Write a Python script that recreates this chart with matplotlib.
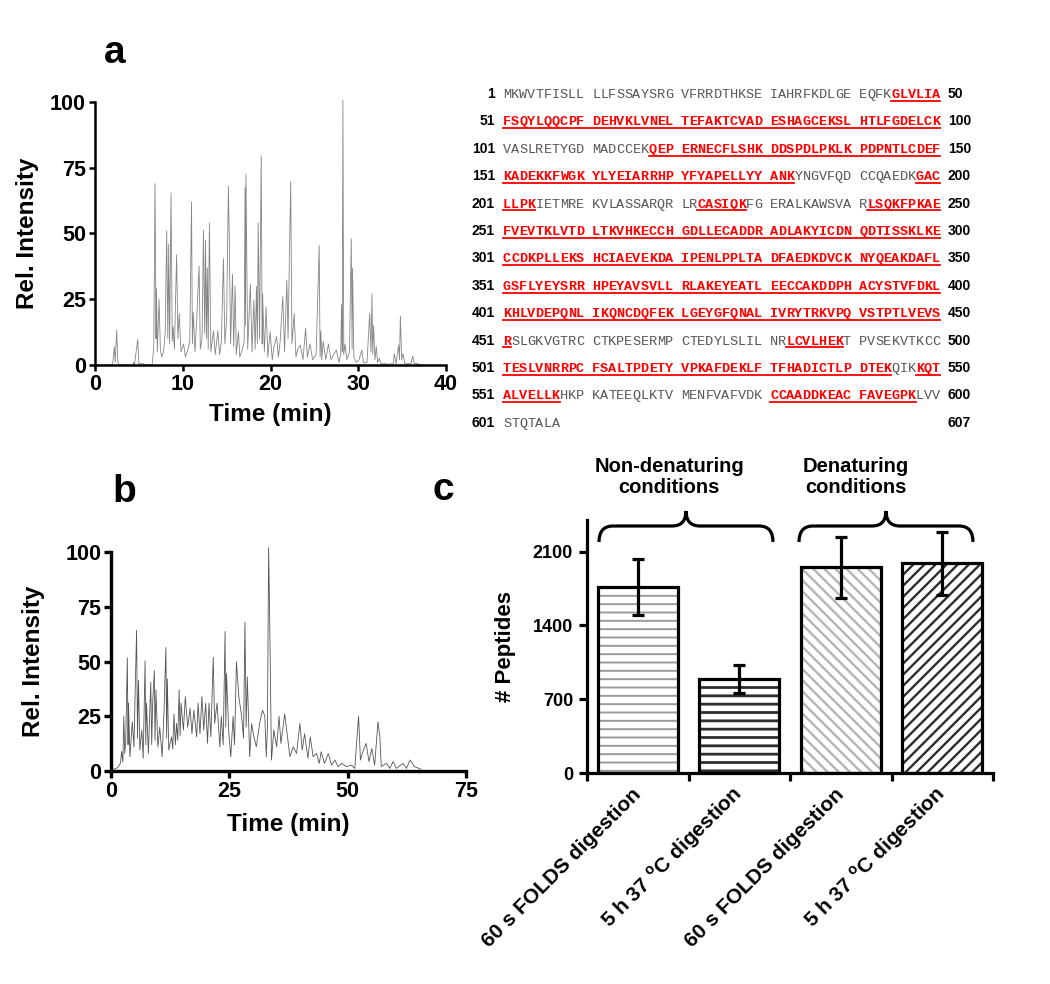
import matplotlib
matplotlib.use('Agg')
import matplotlib.pyplot as plt
from matplotlib.path import Path
from matplotlib.patches import PathPatch
from matplotlib.lines import Line2D
import numpy as np

plt.rcParams['font.family'] = ['Liberation Sans', 'DejaVu Sans']
plt.rcParams['font.weight'] = 'bold'
plt.rcParams['axes.labelweight'] = 'bold'
plt.rcParams['mathtext.fontset'] = 'custom'
plt.rcParams['mathtext.bf'] = 'Liberation Sans:bold'
plt.rcParams['mathtext.rm'] = 'Liberation Sans:bold'
plt.rcParams['hatch.linewidth'] = 1.5

# ---------------- data ----------------
# Panel a chromatogram (time in min, relative intensity)
a_time = [0, 2.0, 2.2, 2.3, 2.47, 2.6, 2.8, 4.3, 4.4, 4.5, 4.87, 5.0, 5.5, 5.7, 6.5, 6.6, 6.7, 6.84, 6.95,
          7.0, 7.1, 7.3, 7.45, 7.6, 7.8, 8.0, 8.17, 8.3, 8.4, 8.5, 8.67, 8.8, 8.9, 9.05, 9.3, 9.45, 9.6,
          9.8, 10.1, 10.3, 10.6, 10.8, 11.0, 11.1, 11.2, 11.4, 11.6, 11.86, 12.0, 12.2, 12.36, 12.5, 12.6,
          12.7, 12.8, 12.9, 13.04, 13.2, 13.5, 13.7, 14.0, 14.2, 14.4, 14.64, 14.8, 15.0, 15.2, 15.3,
          15.45, 15.67, 15.8, 15.97, 16.1, 16.35, 16.5, 16.8, 17.0, 17.1, 17.15, 17.2, 17.4, 17.7, 17.9,
          18.1, 18.25, 18.4, 18.5, 18.6, 18.75, 18.94, 19.05, 19.1, 19.3, 19.5, 19.7, 19.96, 20.2, 20.4,
          20.7, 20.9, 21.1, 21.4, 21.6, 21.86, 22.0, 22.3, 22.45, 22.7, 22.9, 23.1, 23.4, 23.7, 24.0,
          24.2, 24.5, 24.8, 25.2, 25.55, 25.65, 25.74, 25.85, 26.0, 26.3, 26.6, 26.9, 27.2, 27.5, 27.8,
          28.0, 28.1, 28.18, 28.25, 28.35, 28.5, 28.7, 29.0, 29.2, 29.3, 29.35, 29.5, 29.8, 30.1, 30.4,
          30.6, 31.0, 31.3, 31.45, 31.56, 31.65, 31.75, 31.9, 32.05, 32.2, 32.4, 32.6, 33.0, 33.5, 34.0,
          34.1, 34.3, 34.6, 34.7, 34.8, 34.95, 35.1, 35.3, 36.0, 36.2, 36.4, 36.7, 37.0, 37.3]
a_int = [0, 0, 7, 1, 13.3, 1, 0, 0, 1, 0, 9.8, 0.5, 0.5, 0, 0, 3, 8, 69, 10,
         29, 5, 25, 6, 3, 5, 12, 51, 10, 46, 8, 65.5, 9, 14.5, 6, 42, 10, 19.6,
         5, 8, 3, 6, 9, 62, 8, 20, 5, 18, 37.6, 6, 10, 51.3, 12, 47.5,
         10, 37, 6, 54, 5, 13, 4, 13, 4, 9, 40.5, 8, 17, 68, 49,
         8, 34.5, 7, 30, 4, 12.7, 3, 6, 9, 67.5, 15, 72.6, 6, 30.8, 5,
         24.7, 6, 29.8, 8, 54, 10, 79.5, 8, 27, 5, 22, 3, 12.7, 2, 7,
         10.8, 3, 9, 26, 5, 32.3, 10, 69.7, 8, 19.6, 3, 6, 7.6, 2, 14,
         3, 8, 2, 4, 45.4, 3, 13, 2, 9, 2, 8, 2, 4, 5.7, 1,
         4, 23, 5, 100.8, 4, 8, 2, 5, 48, 6, 36.8, 3, 1, 2, 5.7,
         1, 1, 19.6, 5, 27, 4, 15, 2, 7, 1, 2.5, 0.5, 0.5, 0.3, 0.5,
         4.4, 0.5, 7.6, 2, 18.6, 2, 4.4, 0.5, 0.5, 3.4, 0.5, 0.6, 0, 0]

# Panel b chromatogram
b_time = [0, 0.8, 1.4, 2.0, 2.25, 2.5, 2.7, 2.9, 3.1, 3.45, 3.6, 3.7, 4.0, 4.5, 4.85, 5.4, 5.6, 5.8, 6.1,
          6.5, 6.8, 7.2, 7.35, 7.5, 7.9, 8.4, 8.6, 8.8, 9.15, 9.3, 9.5, 9.9, 10.3, 10.8, 11.2, 11.6,
          11.75, 11.9, 12.2, 12.8, 13.05, 13.3, 13.6, 13.85, 14.1, 14.4, 14.6, 14.8, 15.3, 15.7, 16.2,
          16.7, 17.1, 17.5, 18.1, 18.4, 18.8, 19.2, 19.6, 20.0, 20.4, 20.7, 21.1, 21.6, 21.9, 22.4,
          23.0, 23.3, 23.7, 24.1, 24.25, 24.4, 24.9, 25.3, 25.8, 26.1, 26.5, 27.0, 27.6, 28.0, 28.3,
          28.55, 28.8, 29.3, 29.7, 30.2, 30.7, 31.4, 32.0, 32.5, 32.8, 33.05, 33.3, 33.5, 33.9, 34.4,
          35.0, 35.5, 35.9, 36.7, 37.2, 37.8, 38.5, 39.2, 39.9, 40.4, 40.9, 41.6, 42.1, 42.7, 43.4,
          44.0, 44.4, 45.1, 45.9, 46.6, 47.3, 48.0, 48.7, 49.7, 50.8, 51.5, 52.3, 52.7, 53.2, 53.9,
          54.5, 55.1, 55.7, 56.4, 56.8, 57.1, 58.2, 58.9, 59.6, 60.3, 61.7, 62.4, 63.2, 64.1, 65.5]
b_int = [0.5, 1, 1.5, 3.5, 9, 4, 25, 8, 12.6, 51.7, 12, 31, 6.5, 22.5, 11, 64.3, 15, 41.5, 9.6,
         18.7, 5.8, 50.3, 12, 31, 8, 40.6, 12, 31, 46, 14, 37, 11, 20, 6.5, 27, 56.4,
         15, 42, 9.6, 15.6, 10, 26, 12, 21.7, 14, 37, 16, 31, 18.7, 34, 20,
         28.6, 17, 27.8, 15.6, 31, 17, 34, 18.7, 31, 12.6, 31, 15.6, 52, 21.7, 31,
         11, 25, 12, 63.7, 20, 44.5, 17, 6.5, 25, 12, 50, 34, 25, 15, 68,
         20, 43, 6.5, 21.7, 15.6, 11, 21.7, 27.8, 25, 6.5, 20, 102, 73, 5, 18.7,
         11, 25, 12.6, 26, 17, 6.5, 11, 8, 21.7, 9.6, 17, 5.8, 15.6, 6.5, 8,
         3.5, 8.8, 3.5, 8, 2.7, 5, 2, 3.5, 2, 2.7, 1.2, 25, 5, 8.8, 12.6,
         4.3, 10.3, 2.7, 22.5, 15.6, 2, 3.5, 1.2, 4.3, 1.2, 3.5, 1.2, 5, 2, 0.8]

# Panel c bar chart
conditions = ['Non-denaturing\nconditions', 'Denaturing\nconditions']
categories = ['60 s FOLDS digestion', r'5 h 37 $^{\mathbf{o}}$C digestion',
              '60 s FOLDS digestion', r'5 h 37 $^{\mathbf{o}}$C digestion']
peptides = [1767, 893, 1950, 1990]
peptides_err = [267, 133, 290, 299]
c_yticks = [0, 700, 1400, 2100]

# Protein sequence (BSA), 50 residues per line, covered peptides in red
seq_lines = [
    "MKWVTFISLL LLFSSAYSRG VFRRDTHKSE IAHRFKDLGE EQFKGLVLIA",
    "FSQYLQQCPF DEHVKLVNEL TEFAKTCVAD ESHAGCEKSL HTLFGDELCK",
    "VASLRETYGD MADCCEKQEP ERNECFLSHK DDSPDLPKLK PDPNTLCDEF",
    "KADEKKFWGK YLYEIARRHP YFYAPELLYY ANKYNGVFQD CCQAEDKGAC",
    "LLPKIETMRE KVLASSARQR LRCASIQKFG ERALKAWSVA RLSQKFPKAE",
    "FVEVTKLVTD LTKVHKECCH GDLLECADDR ADLAKYICDN QDTISSKLKE",
    "CCDKPLLEKS HCIAEVEKDA IPENLPPLTA DFAEDKDVCK NYQEAKDAFL",
    "GSFLYEYSRR HPEYAVSVLL RLAKEYEATL EECCAKDDPH ACYSTVFDKL",
    "KHLVDEPQNL IKQNCDQFEK LGEYGFQNAL IVRYTRKVPQ VSTPTLVEVS",
    "RSLGKVGTRC CTKPESERMP CTEDYLSLIL NRLCVLHEKT PVSEKVTKCC",
    "TESLVNRRPC FSALTPDETY VPKAFDEKLF TFHADICTLP DTEKQIKKQT",
    "ALVELLKHKP KATEEQLKTV MENFVAFVDK CCAADDKEAC FAVEGPKLVV",
    "STQTALA",
]
covered = [(45, 100), (118, 183), (198, 204), (223, 228), (242, 451),
           (483, 489), (501, 544), (548, 557), (581, 597)]

# ---------------- figure ----------------
W, H = 1050, 984
fig = plt.figure(figsize=(W / 100, H / 100), dpi=100)


def ax_px(l, t, r, b):
    return fig.add_axes([l / W, 1 - b / H, (r - l) / W, (b - t) / H])


def ftext(x, y, s, **kw):
    return fig.text(x / W, 1 - y / H, s, **kw)


def style(ax, lw, tl, fs, pad):
    for s in ['top', 'right']:
        ax.spines[s].set_visible(False)
    for s in ['left', 'bottom']:
        ax.spines[s].set_linewidth(lw)
    ax.tick_params(width=lw, length=tl, labelsize=fs, direction='out', pad=pad)


# Panel a
ax_a = ax_px(95, 102, 446, 365)
ax_a.plot(a_time, a_int, color='#858585', lw=0.6, clip_on=False)
ax_a.set_xlim(0, 40)
ax_a.set_ylim(0, 100)
ax_a.set_xticks([0, 10, 20, 30, 40])
ax_a.set_yticks([0, 25, 50, 75, 100])
style(ax_a, 1.8, 4, 15.5, 2.5)
ax_a.set_ylabel('Rel. Intensity', fontsize=17.5)
ax_a.yaxis.set_label_coords(-0.16, 0.5)
ax_a.set_xlabel('Time (min)', fontsize=17.5)
ax_a.xaxis.set_label_coords(0.5, -0.145)

# Panel b
ax_b = ax_px(111, 552, 466, 771)
ax_b.plot(b_time, b_int, color='#555555', lw=0.6, clip_on=False)
ax_b.set_xlim(0, 75)
ax_b.set_ylim(0, 100)
ax_b.set_xticks([0, 25, 50, 75])
ax_b.set_yticks([0, 25, 50, 75, 100])
style(ax_b, 2.4, 5, 15.5, 2)
ax_b.set_ylabel('Rel. Intensity', fontsize=17.5)
ax_b.yaxis.set_label_coords(-0.185, 0.5)
ax_b.set_xlabel('Time (min)', fontsize=17.5)
ax_b.xaxis.set_label_coords(0.5, -0.19)

# Panel c
ax_c = ax_px(587, 520, 993, 773)
xpos = np.arange(len(peptides))
hatches = ['--', '--', '\\\\\\', '///']
hcolors = ['#9a9a9a', '#2e2e2e', '#b5b5b5', '#2e2e2e']
hlw = [1.4, 2.0, 1.7, 1.7]
for i in range(len(peptides)):
    bars = ax_c.bar(xpos[i], peptides[i], 0.79, color='white', edgecolor=hcolors[i],
                    hatch=hatches[i], lw=0, zorder=2)
    for p in bars:
        try:
            p.set_hatch_linewidth(hlw[i])
        except AttributeError:
            pass
ax_c.bar(xpos, peptides, 0.79, fill=False, edgecolor='black', lw=2.3, zorder=3)
ax_c.errorbar(xpos, peptides, yerr=peptides_err, fmt='none', ecolor='black',
              elinewidth=2.3, capsize=4.5, capthick=2.3, zorder=4)
ax_c.set_xlim(-0.5, 3.5)
ax_c.set_ylim(0, 2400)
ax_c.set_yticks(c_yticks)
ax_c.set_xticks(np.arange(-0.5, 4.0, 1.0))
ax_c.set_xticklabels([])
ax_c.set_xticks(xpos, labels=categories, minor=True)
style(ax_c, 2.3, 6, 13, 4)
ax_c.tick_params(axis='x', which='minor', length=0, pad=13, labelsize=15)
for lab in ax_c.get_xticklabels(minor=True):
    lab.set_rotation(45)
    lab.set_ha('right')
    lab.set_va('center')
    lab.set_rotation_mode('anchor')
ax_c.set_ylabel('# Peptides', fontsize=16)
ax_c.yaxis.set_label_coords(-0.175, 0.5)


# braces above groups (pixel coordinates)
def brace(x0, x1, xc, y_end, y_flat, y_peak, r=14):
    pts = [(x0, y_end), (x0, y_flat), (x0 + r, y_flat), (xc - r, y_flat),
           (xc, y_flat), (xc, y_peak), (xc, y_flat), (xc + r, y_flat),
           (x1 - r, y_flat), (x1, y_flat), (x1, y_end)]
    codes = [Path.MOVETO, Path.CURVE3, Path.CURVE3, Path.LINETO,
             Path.CURVE3, Path.CURVE3, Path.CURVE3, Path.CURVE3,
             Path.LINETO, Path.CURVE3, Path.CURVE3]
    verts = [(x / W, 1 - y / H) for x, y in pts]
    fig.add_artist(PathPatch(Path(verts, codes), fill=False, lw=2.3,
                             edgecolor='black', transform=fig.transFigure))


brace(599, 773, 686, 542, 526, 511)
brace(799, 973, 886, 542, 526, 511)
ftext(669, 477, conditions[0], ha='center', va='center', fontsize=14.5, linespacing=1.1)
ftext(856, 477, conditions[1], ha='center', va='center', fontsize=14.5, linespacing=1.1)

# panel letters
ftext(115, 63, 'a', ha='center', va='baseline', fontsize=28)
ftext(124, 502, 'b', ha='center', va='baseline', fontsize=28)
ftext(443, 500, 'c', ha='center', va='baseline', fontsize=28)

# ---------------- sequence coverage ----------------
seq = ''.join(l.replace(' ', '') for l in seq_lines)
is_red = np.zeros(len(seq) + 1, dtype=bool)
for s, e in covered:
    is_red[s:e + 1] = True

cw = 437 / 54.0
x_seq0 = 503
mono_pt = cw / 0.6 * 0.72
red = '#ff0000'
gray = '#555555'
for li in range(len(seq_lines)):
    yb = 98 + li * 27.4
    start = 50 * li + 1
    end = min(start + 49, len(seq))
    ftext(495, yb, str(start), ha='right', va='baseline', fontsize=10,
          family='Liberation Sans', weight='bold', color='black')
    ftext(948, yb, str(end), ha='left', va='baseline', fontsize=10,
          family='Liberation Sans', weight='bold', color='black')
    # draw each residue at its fixed monospace column
    for r in range(start, end + 1):
        j = r - start
        col = j + j // 10
        flag = bool(is_red[r])
        ftext(x_seq0 + (col + 0.5) * cw, yb, seq[r - 1], ha='center', va='baseline',
              family='Liberation Mono', fontsize=mono_pt,
              weight='bold' if flag else 'normal', color=red if flag else gray)
    # underline runs of covered residues
    runs = []
    for r in range(start, end + 1):
        j = r - start
        col = j + j // 10
        if is_red[r]:
            if runs and runs[-1][1] == r - 1:
                runs[-1][1] = r
                runs[-1][3] = col
            else:
                runs.append([r, r, col, col])
    for _, _, c0, c1 in runs:
        xs = x_seq0 + c0 * cw
        xe = x_seq0 + (c1 + 1) * cw
        yu = yb + 2.8
        fig.add_artist(Line2D([xs / W, xe / W], [1 - yu / H, 1 - yu / H],
                              color=red, lw=1.3, transform=fig.transFigure))

fig.savefig('out.png', dpi=100)
